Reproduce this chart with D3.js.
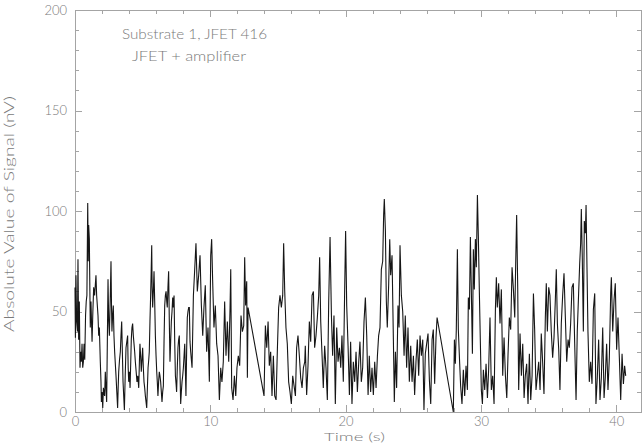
<!DOCTYPE html>
<html>
<head>
<meta charset="utf-8">
<script src="https://cdn.jsdelivr.net/npm/d3@7"></script>
<style>
  body { margin: 0; background: #fff; }
</style>
</head>
<body>
<svg id="chart" width="644" height="443"></svg>
<script>
// readings taken off the trace (time in s, |signal| in nV)
const timeSec = [
  0,0.03,0.07,0.12,0.18,0.22,0.27,0.32,0.37,0.42,0.47,0.52,0.57,0.62,0.67,0.72,0.78,0.83,0.88,0.94,
  0.98,1.01,1.06,1.1,1.13,1.18,1.26,1.32,1.38,1.45,1.5,1.55,1.6,1.63,1.7,1.75,1.8,1.87,1.92,1.95,
  2.0,2.05,2.1,2.14,2.19,2.24,2.29,2.34,2.39,2.44,2.49,2.54,2.6,2.66,2.7,2.73,2.78,2.83,2.88,2.93,
  2.98,3.03,3.09,3.15,3.19,3.23,3.29,3.35,3.4,3.45,3.5,3.55,3.6,3.65,3.71,3.77,3.83,3.89,3.93,3.97,
  4.02,4.07,4.12,4.16,4.21,4.26,4.31,4.36,4.41,4.46,4.52,4.58,4.64,4.71,4.76,4.8,4.85,4.9,4.95,5.0,
  5.05,5.1,5.15,5.2,5.25,5.3,5.35,5.4,5.45,5.49,5.54,5.59,5.63,5.67,5.7,5.74,5.79,5.84,5.89,5.94,
  5.99,6.04,6.09,6.13,6.18,6.23,6.28,6.33,6.38,6.43,6.48,6.53,6.58,6.63,6.68,6.73,6.78,6.82,6.87,6.92,
  6.97,7.02,7.07,7.12,7.17,7.22,7.27,7.32,7.37,7.42,7.47,7.51,7.56,7.61,7.66,7.71,7.76,7.81,7.86,7.91,
  7.96,8.01,8.06,8.11,8.16,8.2,8.25,8.3,8.35,8.4,
  8.45,8.5,8.55,8.65,8.75,8.84,8.94,9.04,9.14,9.24,9.34,9.44,9.53,9.63,9.73,9.83,9.93,10.03,10.1,10.17,
  10.27,10.37,10.47,10.57,10.67,10.77,10.86,10.96,11.06,11.16,11.26,11.36,11.46,11.51,11.58,11.68,11.78,11.88,11.97,12.07,
  12.17,12.27,12.37,12.47,12.54,12.61,12.69,12.74,12.79,13.97,14.07,14.17,14.27,14.36,14.46,14.56,14.66,14.76,14.86,14.96,
  15.05,15.15,15.25,15.35,15.42,15.5,15.59,15.69,15.79,15.89,15.99,16.09,16.19,16.29,16.38,16.48,16.58,16.68,16.78,16.88,
  16.98,
  17.02,17.12,17.22,17.32,17.42,17.52,17.62,17.71,17.81,17.91,18.01,18.08,18.16,18.26,18.35,18.45,18.55,18.65,18.75,18.85,
  18.95,19.04,19.14,19.24,19.34,19.44,19.54,19.64,19.73,19.83,19.93,20.0,20.08,20.18,20.28,20.37,20.47,20.57,20.67,20.77,
  20.87,20.97,21.06,21.16,21.26,21.36,21.46,21.56,21.66,21.75,21.85,21.95,22.05,22.15,22.25,22.35,22.44,22.54,22.64,22.74,
  22.81,22.86,22.94,23.01,23.08,23.18,23.26,23.33,23.43,23.53,23.6,23.68,23.77,23.87,23.95,24.02,24.12,24.22,24.32,24.41,
  24.51,24.61,24.71,24.81,24.91,25.01,25.1,25.2,25.3,25.4,25.5,25.6,
  25.7,25.79,25.89,25.99,26.09,26.19,26.29,26.39,26.48,26.58,26.68,26.76,27.96,28.04,28.11,28.18,28.26,28.33,28.43,28.5,
  28.6,28.7,28.8,28.9,29.0,29.07,29.15,29.22,29.29,29.37,29.44,29.51,29.59,29.66,29.74,29.81,29.88,29.96,30.03,30.11,
  30.18,30.28,30.38,30.48,30.57,30.67,30.77,30.87,30.97,31.07,31.14,31.21,31.31,31.41,31.51,31.61,31.71,31.81,31.91,32.0,
  32.1,32.2,32.3,32.4,32.5,32.57,32.64,32.72,32.79,32.89,32.99,33.09,33.19,33.28,33.38,33.48,33.58,33.68,33.78,33.88,
  33.97,34.07,34.17,
  34.27,34.37,34.46,34.56,34.66,34.76,34.83,34.91,35.01,35.1,35.2,35.3,35.4,35.5,35.57,35.65,35.75,35.84,35.94,36.04,
  36.14,36.24,36.34,36.44,36.53,36.63,36.73,36.83,36.93,37.03,37.12,37.22,37.3,37.37,37.42,37.49,37.57,37.64,37.72,37.77,
  37.84,37.91,38.01,38.11,38.21,38.31,38.41,38.5,38.6,38.7,38.8,38.9,39.0,39.1,39.19,39.29,39.39,39.49,39.59,39.64,
  39.74,39.84,39.93,40.03,40.13,40.23,40.33,40.43,40.53,40.62,40.7
];
const signalNV = [
  62,37,68,45,40,76,36,55,22,30,25,34,22,25,34,26,48,55,58,104,
  75,93,86,60,42,55,35,50,62,58,63,68,58,55,48,38,42,25,15,5,
  10,2,12,10,8,20,12,5,35,66,45,38,55,75,52,40,48,53,38,30,
  24,18,10,2,12,20,26,30,38,45,30,15,8,1,18,32,35,38,22,15,
  20,12,25,36,42,44,38,34,30,25,20,15,18,12,25,34,28,20,26,32,
  22,15,12,8,5,2,12,22,26,30,45,58,70,83,62,52,60,70,55,38,
  28,20,14,8,15,20,18,15,10,5,10,13,35,53,58,60,55,52,62,70,
  45,25,35,45,50,57,52,58,35,18,14,10,22,32,36,38,20,4,10,15,
  18,22,28,34,20,8,30,47,50,52,
  52,35,30,22,58,70,84,60,68,78,53,38,52,63,30,42,15,78,86,66,
  42,53,34,28,6,22,15,25,55,28,45,25,52,71,12,6,18,8,22,28,
  23,48,40,43,77,53,65,17,52,8,43,32,45,23,30,8,28,8,6,32,
  52,58,52,58,84,60,42,34,15,10,4,18,13,8,32,38,28,17,12,22,
  25,
  33,8.5,23,45,35,58,60,32,38,47,58,77,45,28,12,33,22,6,55,87,
  48,28,48,4,42,25,32,22,38,15,61,90,53,33,8.5,35,4,25,15,30,
  10,25,35,15,22,45,57,38,8.5,28,10,22,8.5,25,12,28,38,42,71,75,
  98,106,90,55,42,63,86,68,78,36,5,30,12,53,42,83,58,50,28,48,
  22,42,15,33,15,28,8.5,25,36,18,38,28,
  36,1,29,34,39,16,4,36,41,14,37,47,0,36,24,41,81,41,24,13,
  4,21,8,23,11,57,51,87,61,29,81,61,86,72,108,87,61,34,11,4,
  21,11,24,7,21,47,11,18,4,51,67,52,64,44,61,18,37,18,7,28,
  47,41,72,61,47,74,98,61,11,39,18,34,7,18,24,4,29,6,18,59,
  41,11,18,
  25,11,39,25,9,47,64,40,62,58,40,27,37,56,71,44,31,11,44,58,
  69,47,25,36,32,44,62,64,34,6,40,59,74,84,101,77,40,95,89,103,
  71,40,15,25,14,51,59,4,17,36,6,17,42,7,17,34,11,27,59,67,
  40,56,64,31,47,27,6,29,14,23,18
];

const xMajor = [0, 10, 20, 30, 40];
const xMinor = [2, 4, 6, 8, 12, 14, 16, 18, 22, 24, 26, 28, 32, 34, 36, 38];
const yMajor = [0, 50, 100, 150, 200];
const yMinor = [10, 20, 30, 40, 60, 70, 80, 90, 110, 120, 130, 140, 160, 170, 180, 190];
const noteLines = ["Substrate 1, JFET 416", "JFET + amplifier"];
const xTitle = "Time (s)";
const yTitle = "Absolute Value of Signal (nV)";

const svg = d3.select("#chart");
const font = "Lato, 'DejaVu Sans', sans-serif";
const textGrey = "#7a7a7a";
const axisGrey = "#a4a4a4";
const xMax = 41.83;

const x = d3.scaleLinear().domain([0, xMax]).range([75, 641]);
const y = d3.scaleLinear().domain([0, 200]).range([412, 10]);

// frame
svg.append("rect")
   .attr("x", x(0)).attr("y", y(200))
   .attr("width", x(xMax) - x(0)).attr("height", y(0) - y(200))
   .attr("fill", "none").attr("stroke", axisGrey).attr("stroke-width", 1)
   .attr("shape-rendering", "crispEdges");

function addAxis(axis, tf) {
    const g = svg.append("g").attr("transform", tf).call(axis);
    g.select(".domain").remove();
    g.attr("color", axisGrey).attr("font-family", font).attr("font-size", 13)
     .attr("font-weight", 300).attr("shape-rendering", "crispEdges");
    g.selectAll("text").attr("fill", textGrey);
    return g;
}

// bottom / top
addAxis(d3.axisBottom(x).tickValues(xMajor).tickSize(-7).tickPadding(5).tickFormat(d3.format("d")), `translate(0,${y(0)})`);
addAxis(d3.axisBottom(x).tickValues(xMinor).tickSize(-4).tickFormat(""), `translate(0,${y(0)})`);
addAxis(d3.axisTop(x).tickValues(xMajor).tickSize(-7).tickFormat(""), `translate(0,${y(200)})`);
addAxis(d3.axisTop(x).tickValues(xMinor).tickSize(-4).tickFormat(""), `translate(0,${y(200)})`);

// left / right
addAxis(d3.axisLeft(y).tickValues(yMajor).tickSize(-7).tickPadding(8).tickFormat(d3.format("d")), `translate(${x(0)},0)`);
addAxis(d3.axisLeft(y).tickValues(yMinor).tickSize(-4).tickFormat(""), `translate(${x(0)},0)`);
addAxis(d3.axisRight(y).tickValues(yMajor).tickSize(-7).tickFormat(""), `translate(${x(xMax)},0)`);
addAxis(d3.axisRight(y).tickValues(yMinor).tickSize(-4).tickFormat(""), `translate(${x(xMax)},0)`);

// signal trace
const pts = timeSec.map((t, i) => [t, signalNV[i]]);
const line = d3.line().x(d => x(d[0])).y(d => y(d[1]));
svg.append("path")
   .datum(pts)
   .attr("d", line)
   .attr("fill", "none")
   .attr("stroke", "#161616")
   .attr("stroke-width", 1.1)
   .attr("stroke-linejoin", "miter");

// annotation
function label(txt, xp, yp, len, size) {
    return svg.append("text").attr("x", xp).attr("y", yp)
       .attr("textLength", len).attr("lengthAdjust", "spacingAndGlyphs")
       .attr("font-family", font).attr("font-size", size || 13).attr("font-weight", 300)
       .attr("fill", textGrey).text(txt);
}
label(noteLines[0], 122, 38.5, 145);
label(noteLines[1], 132, 61, 114);

// axis titles
label(xTitle, 324, 441, 61, 12);
label(yTitle, 0, 0, 236)
   .attr("text-anchor", "middle")
   .attr("transform", "translate(14,214) rotate(-90)");
</script>
</body>
</html>
